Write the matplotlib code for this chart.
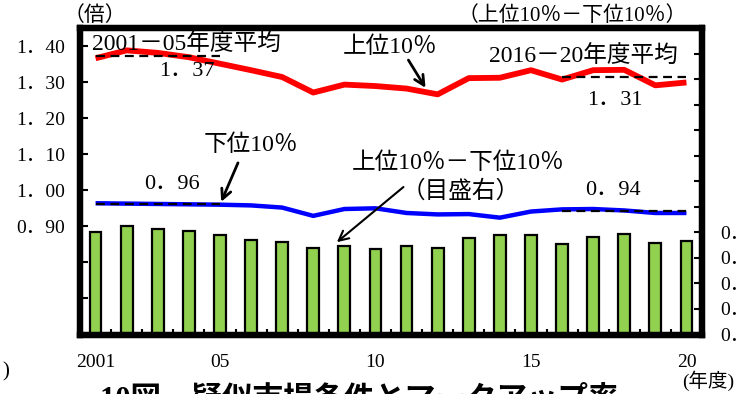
import numpy as np
import matplotlib
matplotlib.use("Agg")
import matplotlib.pyplot as plt
from matplotlib.ticker import FixedLocator

plt.rcParams['font.family'] = ['Liberation Serif', 'Noto Sans CJK JP']

years = list(range(2001, 2021))
year_labels = {2001: "2001", 2005: "05", 2010: "10", 2015: "15", 2020: "20"}

# top 10% and bottom 10% (left scale, 倍)
top10 = [1.366, 1.388, 1.381, 1.369, 1.351, 1.333, 1.314, 1.271, 1.293, 1.289,
         1.282, 1.266, 1.311, 1.312, 1.333, 1.307, 1.333, 1.334, 1.291, 1.299]
bottom10 = [0.964, 0.963, 0.962, 0.961, 0.960, 0.958, 0.952, 0.929, 0.948, 0.950,
            0.937, 0.933, 0.934, 0.924, 0.941, 0.947, 0.948, 0.944, 0.937, 0.937]
# gap between the two (right scale)
gap = [0.401, 0.423, 0.414, 0.405, 0.388, 0.369, 0.362, 0.340, 0.345, 0.336,
       0.345, 0.340, 0.378, 0.391, 0.391, 0.356, 0.382, 0.392, 0.358, 0.365]

x = np.arange(len(years))
first5 = slice(0, 5)
last5 = slice(15, 20)


def fmt(v):
    return f"{v:.2f}".replace(".", "．")


fig = plt.figure(figsize=(7.42, 3.94), dpi=100)
ax = fig.add_axes([80 / 742, 1 - 334.5 / 394, (702 - 80) / 742, (334.5 - 28) / 394])
ax2 = ax.twinx()
ax.set_zorder(ax2.get_zorder() + 1)
ax.patch.set_visible(False)

ax2.bar(x, gap, width=0.38, color="#92D050", edgecolor="black", linewidth=1.6)
ax2.set_ylim(0, 1.2)

ax.plot(x, top10, color="#FF0000", lw=4.2, solid_capstyle="butt")
ax.plot(x, bottom10, color="#0000FF", lw=3.2, solid_capstyle="butt")

# period averages
for series in (top10, bottom10):
    for sl in (first5, last5):
        m = np.mean(series[sl])
        ax.plot([x[sl][0], x[sl][-1]], [m, m], color="black", lw=1.6,
                dashes=(4, 2.5))

ax.set_xlim(-0.5, 19.5)
ax.set_ylim(0.6, 1.45)

# ticks
l_ticks = np.round(np.arange(0.6, 1.41, 0.1), 2)
ax.set_yticks(l_ticks)
ax.set_yticklabels([fmt(v) if v >= 0.9 else "" for v in l_ticks])
ax.tick_params(axis="y", direction="in", length=6, width=1.5, labelsize=14, pad=11)

r_ticks = np.round(np.arange(0.0, 1.11, 0.1), 2)
ax2.set_yticks(r_ticks)
ax2.set_yticklabels([fmt(v) if v <= 0.4 else "" for v in r_ticks])
ax2.tick_params(axis="y", direction="in", length=6, width=1.5, labelsize=14, pad=13)

ax.set_xticks([years.index(y) for y in year_labels])
ax.set_xticklabels(list(year_labels.values()))
ax.xaxis.set_minor_locator(FixedLocator(x[:-1] + 0.5))
ax.tick_params(axis="x", which="major", length=0, labelsize=14, pad=14)
ax.tick_params(axis="x", which="minor", direction="in", length=4, width=1.5)
ax2.tick_params(axis="x", length=0)

for a in (ax, ax2):
    for s in a.spines.values():
        s.set_linewidth(4.5)
        s.set_color("black")

# labels on the lines
ax.text(-0.13, 1.404, "2001－05年度平均", fontsize=17, ha="left", va="center")
ax.text(2.92, 1.328, fmt(np.mean(top10[first5])), fontsize=16, ha="center", va="center")
ax.text(15.7, 1.371, "2016－20年度平均", fontsize=17, ha="center", va="center")
ax.text(16.7, 1.250, fmt(np.mean(top10[last5])), fontsize=16, ha="center", va="center")
ax.text(2.47, 1.017, fmt(np.mean(bottom10[first5])), fontsize=16, ha="center", va="center")
ax.text(16.63, 1.000, fmt(np.mean(bottom10[last5])), fontsize=16, ha="center", va="center")

arrow = dict(arrowstyle="->,head_length=0.7,head_width=0.35", color="black",
             lw=2, shrinkA=0, shrinkB=0)
ax.text(9.46, 1.396, "上位10％", fontsize=17, ha="center", va="center")
ax.annotate("", xy=(10.61, 1.284), xytext=(10.06, 1.361), arrowprops=arrow)
ax.text(5.0, 1.125, "下位10％", fontsize=17, ha="center", va="center")
ax.annotate("", xy=(4.04, 0.968), xytext=(4.58, 1.076), arrowprops=arrow)
ax.text(11.67, 1.076, "上位10％－下位10％", fontsize=17, ha="center", va="center")
ax.text(11.73, 0.998, "（目盛右）", fontsize=17, ha="center", va="center")
ax.annotate("", xy=(7.76, 0.856), xytext=(9.9, 1.009), arrowprops=dict(arrow, lw=1.5))

fig.text(95 / 742, 1 - 16 / 394, "（倍）", fontsize=15, ha="center", va="center")
fig.text(572 / 742, 1 - 16 / 394, "（上位10％－下位10％）", fontsize=15, ha="center", va="center")
fig.text(708 / 742, 1 - 381 / 394, "(年度)", fontsize=14, ha="center", va="center")
fig.text(2 / 742, 1 - 372 / 394, ")", fontsize=15, ha="left", va="center")
fig.text(100 / 742, 1 - 385 / 394, "10図　疑似市場条件とマークアップ率", fontsize=22,
         fontweight="bold", ha="left", va="top")

fig.savefig("out.png", dpi=100)
